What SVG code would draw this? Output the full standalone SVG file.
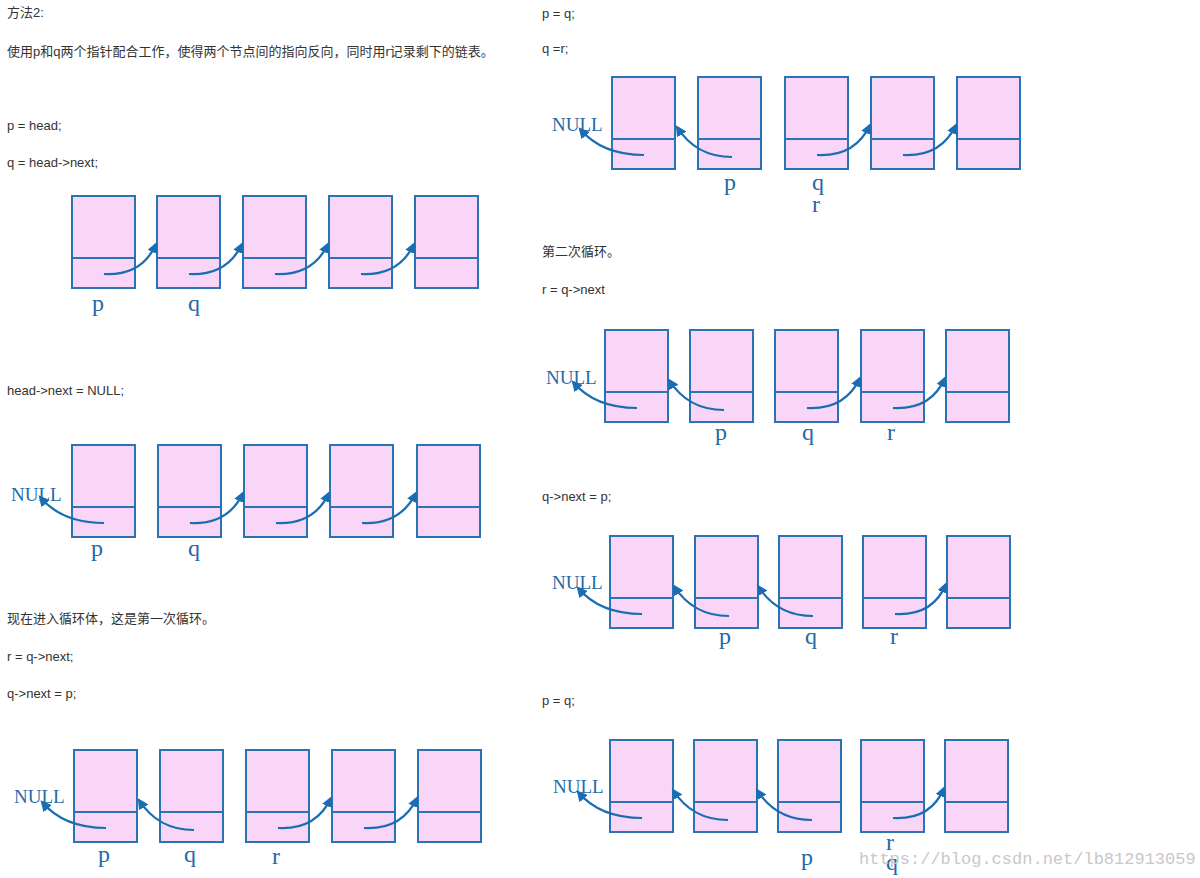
<svg xmlns="http://www.w3.org/2000/svg" xmlns:xlink="http://www.w3.org/1999/xlink" width="1200" height="878" viewBox="0 0 1200 878">
<style>
.t{font-family:"Liberation Sans","Noto Sans CJK SC",sans-serif;font-size:13px;fill:#333}
.l{font-family:"Liberation Serif",serif;font-size:24px;fill:#1f6aa8}
.n{font-family:"Liberation Serif",serif;font-size:19px;fill:#1f6aa8}
.a{fill:none;stroke:#1a6db2;stroke-width:2.2;marker-end:url(#ah)}
.w{font-family:"Liberation Mono",monospace;font-size:17px;fill:#c8c8c8}
</style>
<defs>
<marker id="ah" viewBox="0 0 10 10" refX="8" refY="5" markerWidth="5" markerHeight="5" orient="auto"><path d="M0,0L10,5L0,10z" fill="#1a6db2"/></marker>
<g id="box"><rect x="0" y="0" width="63" height="92" fill="#f9d6f7" stroke="#2a73b5" stroke-width="2"/><line x1="0" y1="62" x2="63" y2="62" stroke="#2a73b5" stroke-width="2"/></g>
</defs>
<rect width="1200" height="878" fill="#fff"/>
<g id="texts">
<text class="t" x="7" y="17">方法2:</text>
<text class="t" x="7" y="56">使用p和q两个指针配合工作，使得两个节点间的指向反向，同时用r记录剩下的链表。</text>
<text class="t" x="7" y="130">p = head;</text>
<text class="t" x="7" y="167">q = head-&gt;next;</text>
<text class="t" x="7" y="395">head-&gt;next = NULL;</text>
<text class="t" x="7" y="623">现在进入循环体，这是第一次循环。</text>
<text class="t" x="7" y="661">r = q-&gt;next;</text>
<text class="t" x="7" y="698">q-&gt;next = p;</text>
<text class="t" x="542" y="18">p = q;</text>
<text class="t" x="542" y="53">q =r;</text>
<text class="t" x="542" y="256">第二次循环。</text>
<text class="t" x="542" y="294">r = q-&gt;next</text>
<text class="t" x="542" y="501">q-&gt;next = p;</text>
<text class="t" x="542" y="705">p = q;</text>
</g>
<g id="n1a"><use xlink:href="#box" x="72" y="196"/></g><g id="n1b"><use xlink:href="#box" x="157" y="196"/></g><g id="n1c"><use xlink:href="#box" x="243" y="196"/></g><g id="n1d"><use xlink:href="#box" x="329" y="196"/></g><g id="n1e"><use xlink:href="#box" x="415" y="196"/></g>
<g id="n2a"><use xlink:href="#box" x="72" y="445"/></g><g id="n2b"><use xlink:href="#box" x="158" y="445"/></g><g id="n2c"><use xlink:href="#box" x="244" y="445"/></g><g id="n2d"><use xlink:href="#box" x="330" y="445"/></g><g id="n2e"><use xlink:href="#box" x="417" y="445"/></g>
<g id="n3a"><use xlink:href="#box" x="74" y="750"/></g><g id="n3b"><use xlink:href="#box" x="160" y="750"/></g><g id="n3c"><use xlink:href="#box" x="246" y="750"/></g><g id="n3d"><use xlink:href="#box" x="332" y="750"/></g><g id="n3e"><use xlink:href="#box" x="418" y="750"/></g>
<g id="n4a"><use xlink:href="#box" x="612" y="77"/></g><g id="n4b"><use xlink:href="#box" x="698" y="77"/></g><g id="n4c"><use xlink:href="#box" x="785" y="77"/></g><g id="n4d"><use xlink:href="#box" x="871" y="77"/></g><g id="n4e"><use xlink:href="#box" x="957" y="77"/></g>
<g id="n5a"><use xlink:href="#box" x="605" y="330"/></g><g id="n5b"><use xlink:href="#box" x="690" y="330"/></g><g id="n5c"><use xlink:href="#box" x="775" y="330"/></g><g id="n5d"><use xlink:href="#box" x="861" y="330"/></g><g id="n5e"><use xlink:href="#box" x="946" y="330"/></g>
<g id="n6a"><use xlink:href="#box" x="610" y="536"/></g><g id="n6b"><use xlink:href="#box" x="695" y="536"/></g><g id="n6c"><use xlink:href="#box" x="779" y="536"/></g><g id="n6d"><use xlink:href="#box" x="863" y="536"/></g><g id="n6e"><use xlink:href="#box" x="947" y="536"/></g>
<g id="n7a"><use xlink:href="#box" x="610" y="740"/></g><g id="n7b"><use xlink:href="#box" x="694" y="740"/></g><g id="n7c"><use xlink:href="#box" x="778" y="740"/></g><g id="n7d"><use xlink:href="#box" x="861" y="740"/></g><g id="n7e"><use xlink:href="#box" x="945" y="740"/></g>
<g id="connectors">
<path class="a" d="M104,274 Q142,276 156,244"/><path class="a" d="M189,274 Q227,276 242,244"/><path class="a" d="M275,274 Q313,276 328,244"/><path class="a" d="M361,274 Q399,276 414,244"/>
<path class="a" d="M104,523 Q62,523 40,497"/><path class="a" d="M190,523 Q228,525 243,493"/><path class="a" d="M276,523 Q314,525 329,493"/><path class="a" d="M362,523 Q400,525 416,493"/>
<path class="a" d="M106,828 Q64,828 42,802"/><path class="a" d="M194,830 Q158,830 139,800"/><path class="a" d="M278,828 Q316,830 331,798"/><path class="a" d="M364,828 Q402,830 417,798"/>
<path class="a" d="M644,155 Q602,155 580,129"/><path class="a" d="M732,157 Q696,157 677,127"/><path class="a" d="M817,155 Q855,157 870,125"/><path class="a" d="M903,155 Q941,157 956,125"/>
<path class="a" d="M637,408 Q595,408 573,382"/><path class="a" d="M724,410 Q688,410 669,380"/><path class="a" d="M807,408 Q845,410 860,378"/><path class="a" d="M893,408 Q931,410 945,378"/>
<path class="a" d="M642,614 Q600,614 578,588"/><path class="a" d="M729,616 Q693,616 674,586"/><path class="a" d="M813,616 Q777,616 758,586"/><path class="a" d="M895,614 Q933,616 946,584"/>
<path class="a" d="M642,818 Q600,818 578,792"/><path class="a" d="M728,820 Q692,820 673,790"/><path class="a" d="M812,820 Q776,820 757,790"/><path class="a" d="M893,818 Q931,820 944,788"/>
</g>
<g id="labels">
<text class="l" x="92" y="311">p</text><text class="l" x="188" y="311">q</text>
<text class="n" x="11" y="501">NULL</text><text class="l" x="91" y="556">p</text><text class="l" x="188" y="556">q</text>
<text class="n" x="14" y="803">NULL</text><text class="l" x="98" y="862">p</text><text class="l" x="184" y="862">q</text><text class="l" x="272" y="864">r</text>
<text class="n" x="552" y="131">NULL</text><text class="l" x="724" y="190">p</text><text class="l" x="812" y="190">q</text><text class="l" x="812" y="212">r</text>
<text class="n" x="546" y="384">NULL</text><text class="l" x="715" y="440">p</text><text class="l" x="802" y="440">q</text><text class="l" x="887" y="440">r</text>
<text class="n" x="552" y="589">NULL</text><text class="l" x="719" y="644">p</text><text class="l" x="805" y="644">q</text><text class="l" x="890" y="644">r</text>
<text class="n" x="553" y="793">NULL</text><text class="l" x="801" y="865">p</text><text class="l" x="886" y="850">r</text><text class="l" x="886" y="870">q</text>
</g>
<text class="w" x="859" y="864">https://blog.csdn.net/lb812913059</text>
</svg>
